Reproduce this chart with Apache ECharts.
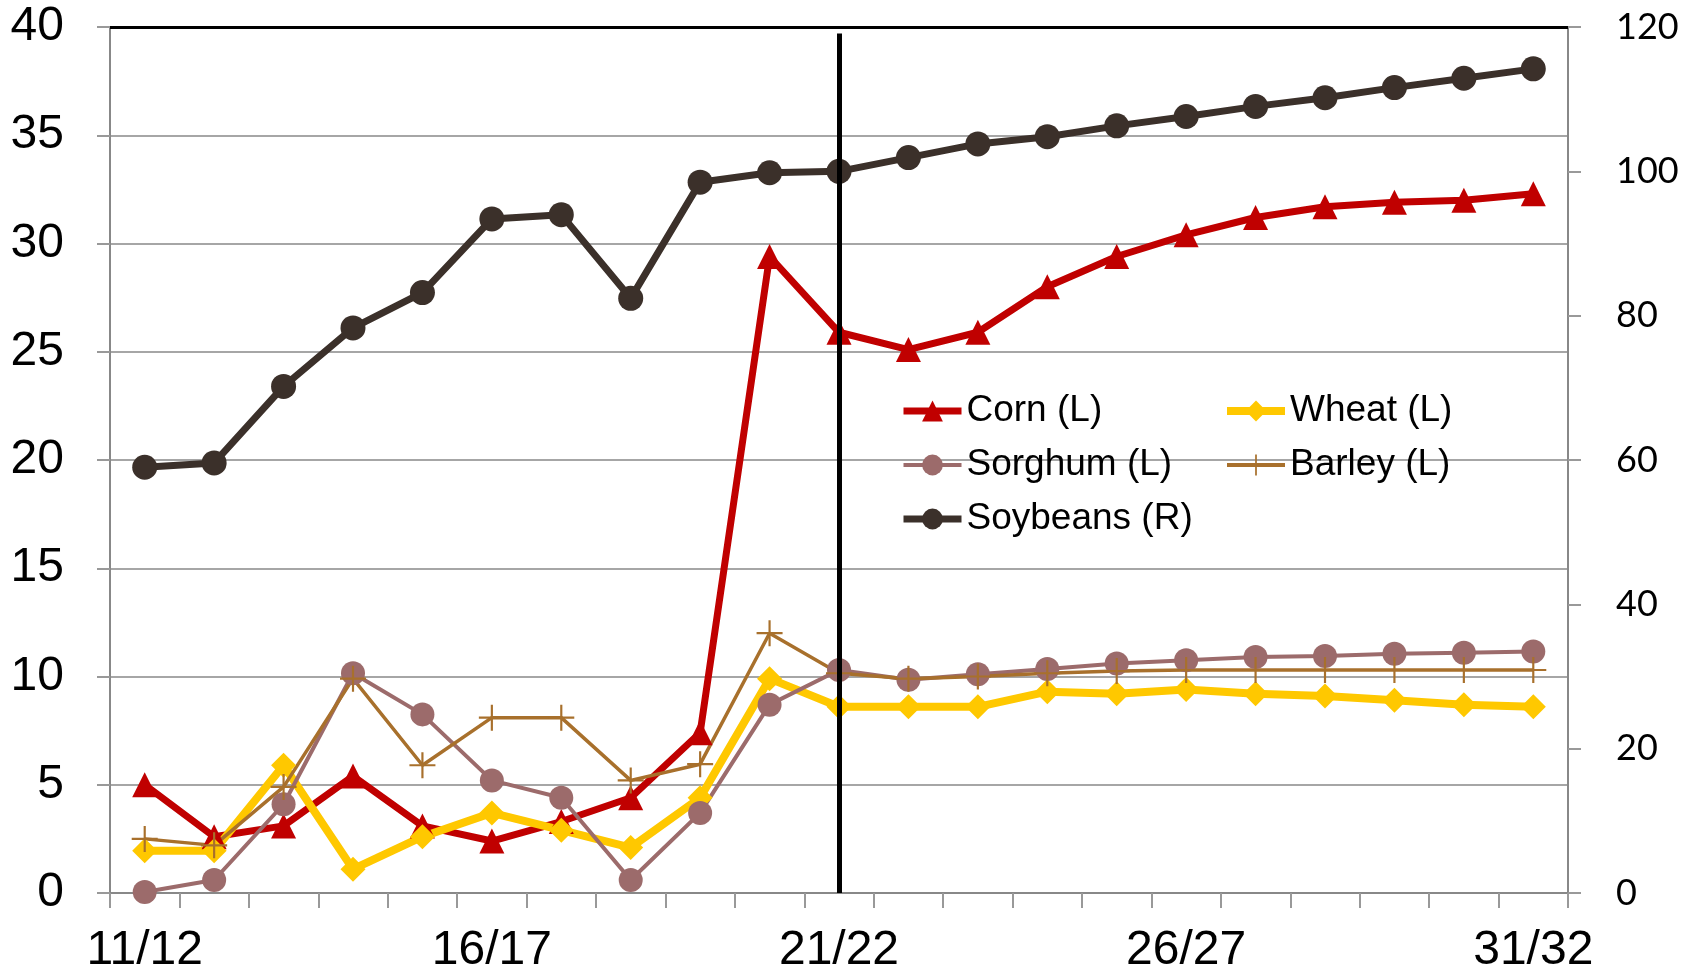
<!DOCTYPE html>
<html>
<head>
<meta charset="utf-8">
<title>Grain and soybean chart</title>
<script src="https://cdn.jsdelivr.net/npm/echarts@6/dist/echarts.min.js"></script>
<style>
  html, body { margin: 0; padding: 0; background: #fff; }
  #chart { width: 1696px; height: 975px; }
</style>
</head>
<body>
<div id="chart"></div>
<script>
var categories = ['11/12','12/13','13/14','14/15','15/16','16/17','17/18','18/19','19/20','20/21',
                  '21/22','22/23','23/24','24/25','25/26','26/27','27/28','28/29','29/30','30/31','31/32'];
var corn     = [5.0, 2.6, 3.1, 5.4, 3.1, 2.4, 3.3, 4.4, 7.4, 29.4, 25.9, 25.1, 25.9, 28.0, 29.4, 30.4, 31.2, 31.7, 31.9, 32.0, 32.3];
var wheat    = [1.95, 1.95, 5.9, 1.1, 2.6, 3.7, 2.9, 2.1, 4.4, 9.9, 8.6, 8.6, 8.6, 9.3, 9.2, 9.4, 9.2, 9.1, 8.9, 8.7, 8.6];
var sorghum  = [0.05, 0.6, 4.1, 10.15, 8.25, 5.2, 4.4, 0.6, 3.7, 8.7, 10.3, 9.85, 10.1, 10.35, 10.6, 10.75, 10.9, 10.95, 11.05, 11.1, 11.15];
var barley   = [2.5, 2.2, 4.9, 9.9, 5.9, 8.1, 8.1, 5.2, 5.95, 12.0, 10.15, 9.9, 10.0, 10.15, 10.25, 10.3, 10.3, 10.3, 10.3, 10.3, 10.3];
var soybeans = [59.0, 59.6, 70.2, 78.3, 83.2, 93.4, 94.0, 82.4, 98.5, 99.8, 100.0, 101.9, 103.8, 104.8, 106.3, 107.6, 109.0, 110.2, 111.6, 112.9, 114.2];
var markYear = '21/22';

var font = '"Liberation Sans", Arial, sans-serif';
var plusPath = 'path://M-1,-12 h2 v24 h-2 z M-12,-1 h24 v2 h-24 z';

var legendText = { fontSize: 37, color: '#000', fontFamily: font, lineHeight: 40 };

var option = {
    animation: false,
    textStyle: { fontFamily: font },
    grid: { left: 110, right: 128, top: 27, bottom: 79 },
    legend: [{
        orient: 'vertical',
        left: 900,
        top: 391,
        padding: 0,
        itemWidth: 58,
        itemHeight: 26,
        itemGap: 14,
        textStyle: legendText,
        data: [
            { name: 'Corn (L)', lineStyle: { width: 7 } },
            { name: 'Sorghum (L)', lineStyle: { width: 4 } },
            { name: 'Soybeans (R)', lineStyle: { width: 7 } }
        ]
    }, {
        orient: 'vertical',
        left: 1223,
        top: 391,
        padding: 0,
        itemWidth: 58,
        itemHeight: 26,
        itemGap: 14,
        textStyle: legendText,
        data: [
            { name: 'Wheat (L)', lineStyle: { width: 8 } },
            { name: 'Barley (L)', lineStyle: { width: 4 } }
        ]
    }],
    xAxis: {
        type: 'category',
        data: categories,
        boundaryGap: true,
        axisLine: { lineStyle: { color: '#888', width: 2 } },
        axisTick: { show: true, interval: 0, length: 15, lineStyle: { color: '#999', width: 2 } },
        axisLabel: { interval: 4, margin: 34, fontSize: 48, color: '#000', fontFamily: font },
        splitLine: { show: false }
    },
    yAxis: [{
        type: 'value',
        min: 0,
        max: 40,
        interval: 5,
        position: 'left',
        axisLine: { show: true, lineStyle: { color: '#888', width: 2 } },
        axisTick: { show: true, length: 13, lineStyle: { color: '#999', width: 2 } },
        axisLabel: { margin: 46, fontSize: 48, color: '#000', fontFamily: font },
        splitLine: { show: true, lineStyle: { width: 2, color: '#a6a6a6' } }
    }, {
        type: 'value',
        min: 0,
        max: 120,
        interval: 20,
        position: 'right',
        axisLine: { show: true, lineStyle: { color: '#888', width: 2 } },
        axisTick: { show: true, length: 13, lineStyle: { color: '#999', width: 2 } },
        axisLabel: { margin: 48, fontSize: 36, color: '#000', fontFamily: 'Lato, "Liberation Sans", sans-serif' },
        splitLine: { show: false }
    }],
    series: [{
        name: 'Corn (L)',
        type: 'line',
        data: corn,
        yAxisIndex: 0,
        symbol: 'triangle',
        symbolSize: 25,
        color: '#c00000',
        lineStyle: { width: 7, color: '#c00000' },
        itemStyle: { color: '#c00000' },
        markLine: {
            silent: true,
            symbol: 'none',
            label: { show: false },
            lineStyle: { color: '#000', type: 'solid' },
            data: [
                [{ coord: [markYear, 0], lineStyle: { width: 5 } }, { coord: [markYear, 39.7] }],
                { yAxis: 40, lineStyle: { width: 3 } }
            ]
        }
    }, {
        name: 'Wheat (L)',
        type: 'line',
        data: wheat,
        yAxisIndex: 0,
        symbol: 'diamond',
        symbolSize: 25,
        color: '#ffc800',
        lineStyle: { width: 8, color: '#ffc800' },
        itemStyle: { color: '#ffc800' }
    }, {
        name: 'Sorghum (L)',
        type: 'line',
        data: sorghum,
        yAxisIndex: 0,
        symbol: 'circle',
        symbolSize: 24,
        color: '#9c6b6b',
        lineStyle: { width: 4, color: '#9c6b6b' },
        itemStyle: { color: '#9c6b6b' }
    }, {
        name: 'Barley (L)',
        type: 'line',
        data: barley,
        yAxisIndex: 0,
        symbol: plusPath,
        symbolSize: 26,
        color: '#a8702c',
        lineStyle: { width: 3.5, color: '#a8702c' },
        itemStyle: { color: '#a8702c' }
    }, {
        name: 'Soybeans (R)',
        type: 'line',
        data: soybeans,
        yAxisIndex: 1,
        symbol: 'circle',
        symbolSize: 25,
        color: '#3b302a',
        lineStyle: { width: 7, color: '#3b302a' },
        itemStyle: { color: '#3b302a' }
    }]
};

var myChart = echarts.init(document.getElementById('chart'));
myChart.setOption(option);
</script>
</body>
</html>
